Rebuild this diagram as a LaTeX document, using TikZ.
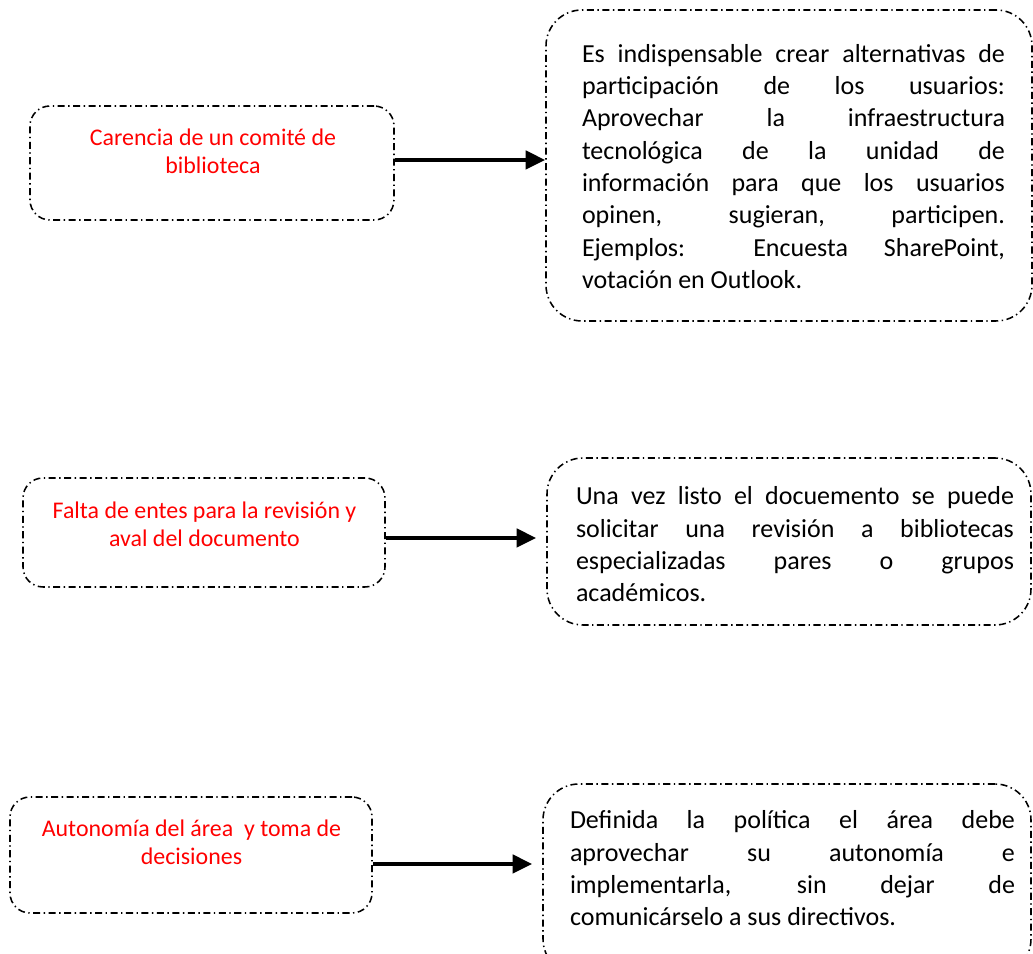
\documentclass[tikz,border=0pt]{standalone}
\usepackage{fontspec}
\setmainfont{Carlito}
\usetikzlibrary{arrows.meta}
\hyphenpenalty=10000
\tolerance=10000

\begin{document}
\begin{tikzpicture}[
  >={Triangle[length=14pt,width=13pt]},
  outline/.style={rectangle,draw=black,line width=1.1pt,dash pattern=on 5pt off 2.5pt on 1pt off 2.5pt},
  problem/.style={outline,rounded corners=0.5cm},
  answer/.style={outline,rounded corners=0.9cm},
  redtext/.style={align=center,text=red,inner sep=0pt,font=\fontsize{17}{19.8}\selectfont},
  bodytext/.style={align=justify,inner sep=0pt,font=\fontsize{18.5}{23}\selectfont},
  link/.style={->,line width=2.8pt}
]

\useasboundingbox (0,0) rectangle (25.825,23.85);

% first row
\node[problem,minimum width=9.1cm,minimum height=2.85cm] (carencia) at (5.3,19.775) {};
\node[answer,minimum width=12.15cm,minimum height=7.775cm] (alternativas) at (19.725,19.7125) {};
\node[redtext] (carenciaT) at (5.325,20.075) {Carencia de un comité de\\biblioteca};
\node[bodytext,text width=10.575cm] (alternativasT) at (19.8375,19.6875)
  {Es indispensable crear alternativas de\linebreak
   participación de los usuarios:\linebreak
   Aprovechar la infraestructura\linebreak
   tecnológica de la unidad de\linebreak
   información para que los usuarios\linebreak
   opinen, sugieran, participen.\linebreak
   Ejemplos: Encuesta SharePoint,\linebreak
   votación en Outlook.};
\draw[link] ([yshift=0.075cm]carencia.east) -- ([yshift=0.075cm]carencia.east -| alternativas.west);

% second row
\node[problem,minimum width=9.05cm,minimum height=2.725cm] (entes) at (5.1,10.5375) {};
\node[answer,minimum width=12.1cm,minimum height=4.175cm] (revision) at (19.725,10.3125) {};
\node[redtext] (entesT) at (5.1125,10.7375) {Falta de entes para la revisión y\\aval del documento};
\node[bodytext,text width=10.95cm] (revisionT) at (19.875,10.2375)
  {Una vez listo el docuemento se puede\linebreak
   solicitar una revisión a bibliotecas\linebreak
   especializadas pares o grupos\linebreak
   académicos.};
\draw[link,shorten >=0.25cm] ([yshift=-0.1375cm]entes.east) -- ([yshift=-0.1375cm]entes.east -| revision.west);

% third row
\node[problem,minimum width=9.05cm,minimum height=2.9cm] (autonomia) at (4.775,2.475) {};
\node[answer,minimum width=12.2cm,minimum height=4.775cm] (politica) at (19.675,1.8625) {};
\node[redtext] (autonomiaT) at (4.7875,2.7875) {Autonomía del área\ \ y toma de\\decisiones};
\node[bodytext,text width=11.125cm] (politicaT) at (19.8125,2.1375)
  {Definida la política el área debe\linebreak
   aprovechar su autonomía e\linebreak
   implementarla, sin dejar de\linebreak
   comunicárselo a sus directivos.};
\draw[link,shorten >=0.25cm] ([yshift=-0.225cm]autonomia.east) -- ([yshift=-0.225cm]autonomia.east -| politica.west);

\end{tikzpicture}
\end{document}
